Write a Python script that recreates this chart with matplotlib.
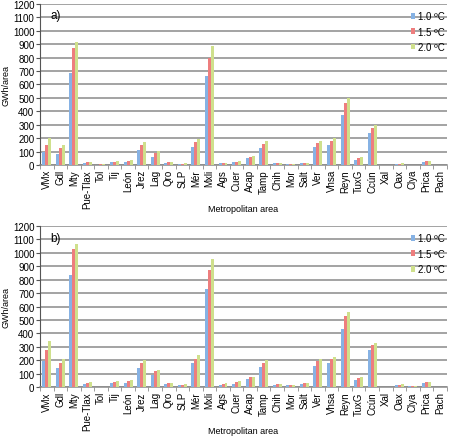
import numpy as np
import matplotlib
matplotlib.use("Agg")
import matplotlib.pyplot as plt

plt.rcParams["font.family"] = ["Liberation Sans", "DejaVu Sans"]

areas = ["VMx", "Gdl", "Mty", "Pue-Tlax", "Tol", "Tij", "León", "Jrez", "Lag", "Qro",
         "SLP", "Mér", "Mxli", "Ags", "Cuer", "Acap", "Tamp", "Chih", "Mor", "Salt",
         "Ver", "Vhsa", "Reyn", "TuxG", "Ccún", "Xal", "Oax", "Clya", "Prica", "Pach"]
scenarios = ["1.0 ºC", "1.5 ºC", "2.0 ºC"]

# panel a)
a_10 = [100, 83, 685, 12, 3, 20, 25, 112, 62, 12, 8, 137, 665, 12, 20, 50, 125, 12, 5, 12,
        130, 150, 375, 38, 240, 2, 5, 3, 20, 1]
a_15 = [145, 125, 872, 20, 4, 25, 32, 145, 90, 20, 10, 170, 800, 15, 25, 62, 158, 15, 8, 17,
        165, 180, 463, 50, 275, 2, 10, 3, 28, 1]
a_20 = [200, 152, 916, 25, 5, 32, 40, 170, 107, 20, 12, 195, 888, 17, 30, 68, 175, 15, 8, 17,
        180, 200, 500, 60, 300, 2, 12, 3, 30, 1]

# panel b)
b_10 = [196, 141, 835, 20, 2, 27, 32, 141, 87, 22, 15, 176, 734, 17, 22, 57, 150, 17, 12, 20,
        159, 176, 431, 55, 275, 3, 12, 8, 30, 3]
b_15 = [275, 178, 1027, 30, 3, 37, 45, 178, 117, 27, 17, 211, 870, 22, 35, 72, 183, 22, 15, 27,
        191, 208, 528, 70, 312, 3, 17, 10, 37, 3]
b_20 = [345, 208, 1068, 37, 4, 47, 52, 198, 129, 32, 20, 238, 955, 27, 42, 72, 198, 22, 15, 27,
        208, 226, 560, 77, 327, 3, 20, 10, 40, 3]

colors = ["#86B2E4", "#EE7E7E", "#CFE08C"]


def draw_panel(ax, series, tag):
    x = np.arange(len(areas))
    w = 0.22
    for i, (vals, c, lab) in enumerate(zip(series, colors, scenarios)):
        ax.bar(x + (i - 1) * w, vals, w, color=c, label=lab, zorder=3, linewidth=0)
    ax.set_xlim(-0.5, len(areas) - 0.5)
    ax.set_ylim(0, 1200)
    ax.set_yticks(range(0, 1201, 100))
    ax.yaxis.grid(True, color="#8a8a8a", linewidth=1.1, zorder=0)
    ax.set_axisbelow(True)
    for s in ["top", "right"]:
        ax.spines[s].set_visible(False)
    ax.spines["left"].set_color("#555555")
    ax.spines["bottom"].set_color("#8a8a8a")
    ax.spines["bottom"].set_linewidth(1.1)
    ax.set_xticks(x)
    ax.set_xticklabels(areas, rotation=90, fontsize=7)
    ax.set_xticks(np.arange(-0.5, len(areas), 1), minor=True)
    ax.tick_params(axis="x", which="major", length=0, pad=3)
    ax.tick_params(axis="x", which="minor", length=3, color="#8a8a8a")
    ax.tick_params(axis="y", labelsize=7, length=3, pad=1, color="#555555")
    ax.set_ylabel("GWh/area", fontsize=6.5)
    ax.yaxis.set_label_coords(-0.072, 0.5)
    ax.set_xlabel("Metropolitan area", fontsize=6.5)
    ax.xaxis.set_label_coords(0.5, -0.24)
    ax.text(0.025, 0.965, tag, transform=ax.transAxes, fontsize=8.5, va="top", ha="left")
    ax.legend(loc="upper right", bbox_to_anchor=(1.01, 0.99), frameon=False, fontsize=7,
              handlelength=0.45, handleheight=0.55, handletextpad=0.3, labelspacing=0.55,
              borderaxespad=0.2)


fig = plt.figure(figsize=(4.49, 4.39), dpi=100)
ax1 = fig.add_axes([0.089, 0.622, 0.906, 0.367])
ax2 = fig.add_axes([0.089, 0.116, 0.906, 0.367])
draw_panel(ax1, [a_10, a_15, a_20], "a)")
draw_panel(ax2, [b_10, b_15, b_20], "b)")

fig.savefig("out.png", dpi=100)
